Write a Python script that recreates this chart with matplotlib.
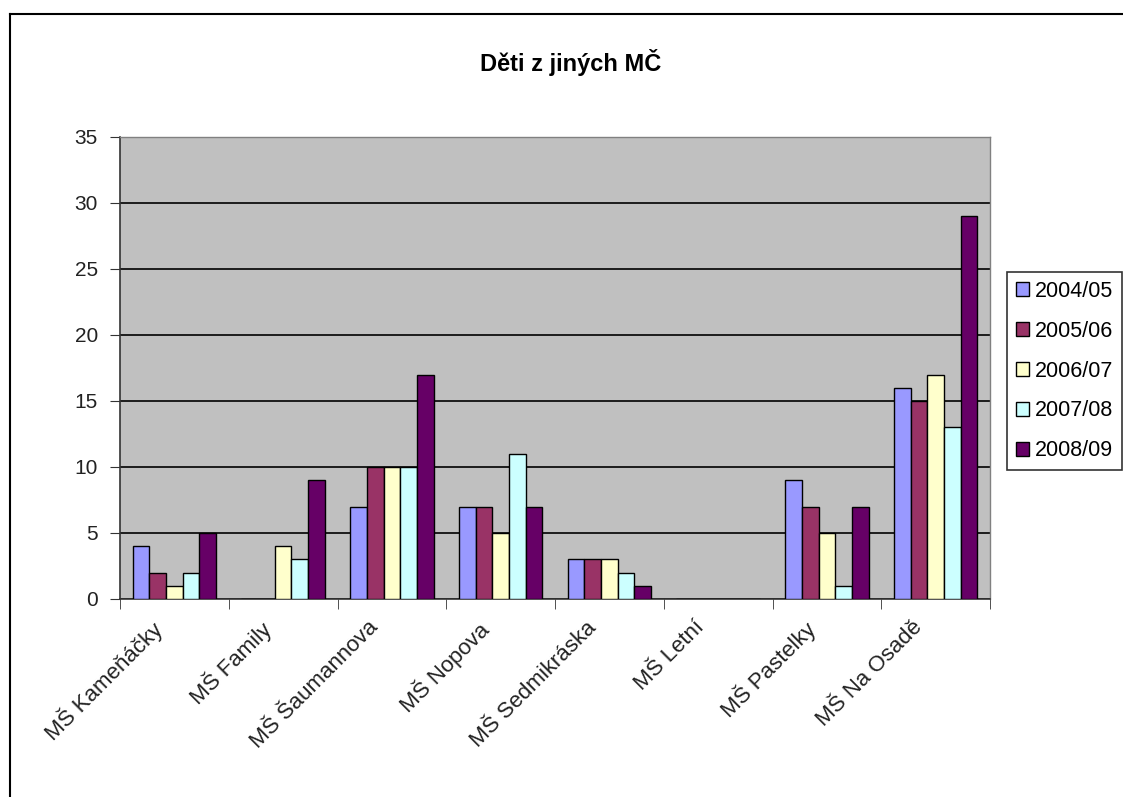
import numpy as np
import matplotlib.pyplot as plt
import matplotlib.transforms as mtransforms
from matplotlib.lines import Line2D

plt.rcParams['font.family'] = ['Liberation Sans', 'DejaVu Sans']

categories = ['MŠ Kameňáčky', 'MŠ Family', 'MŠ Šaumannova', 'MŠ Nopova',
              'MŠ Sedmikráska', 'MŠ Letní', 'MŠ Pastelky', 'MŠ Na Osadě']
years = ['2004/05', '2005/06', '2006/07', '2007/08', '2008/09']
v0405 = [4, 0, 7, 7, 3, 0, 9, 16]
v0506 = [2, 0, 10, 7, 3, 0, 7, 15]
v0607 = [1, 4, 10, 5, 3, 0, 5, 17]
v0708 = [2, 3, 10, 11, 2, 0, 1, 13]
v0809 = [5, 9, 17, 7, 1, 0, 7, 29]
series = [v0405, v0506, v0607, v0708, v0809]
colors = ['#9999FF', '#993366', '#FFFFCC', '#CCFFFF', '#660066']

fig = plt.figure(figsize=(11.23, 7.97), dpi=100)
ax = fig.add_axes([120/1123, 1-599/797, 870/1123, 462/797])
ax.set_facecolor('#C0C0C0')

x = np.arange(len(categories))
w = 1/6.5
for i, (vals, c) in enumerate(zip(series, colors)):
    ax.bar(x + (i-2)*w, vals, w, color=c, edgecolor='black', linewidth=1.0,
           label=years[i], zorder=3)

ax.set_xlim(-0.5, len(categories)-0.5)
ax.set_ylim(0, 35)
ax.set_yticks(range(0, 36, 5))
ax.yaxis.grid(True, color='black', linewidth=1.2, zorder=1)
ax.set_axisbelow(True)
ax.tick_params(axis='y', labelsize=15, length=7, color='#333333',
               labelcolor='#222222', pad=9)

ax.set_xticks(x)
ax.set_xticklabels(categories, rotation=45, ha='right', va='top',
                   rotation_mode='anchor', fontsize=16, color='#222222')
ax.tick_params(axis='x', length=0, pad=13)
ax.set_xticks(np.arange(-0.5, len(categories)), minor=True)
ax.tick_params(axis='x', which='minor', length=7, color='#333333')
shift = mtransforms.ScaledTranslation(-0.24, 0, fig.dpi_scale_trans)
for lab in ax.get_xticklabels():
    lab.set_transform(lab.get_transform() + shift)

for s in ['left', 'bottom']:
    ax.spines[s].set_color('#333333')
    ax.spines[s].set_linewidth(1.2)
for s in ['top', 'right']:
    ax.spines[s].set_color('#808080')
    ax.spines[s].set_linewidth(1.0)

fig.text(571/1123, 1-62/797, 'Děti z jiných MČ', ha='center', va='center',
         fontsize=17, fontweight='bold')

leg = fig.legend(loc='upper left', bbox_to_anchor=(1007/1123, 1-272/797),
                 fontsize=15.5, frameon=True, fancybox=False, edgecolor='black',
                 handlelength=0.6, handleheight=0.6, handletextpad=0.3,
                 labelspacing=0.88, borderpad=0.4, borderaxespad=0)
leg.get_frame().set_linewidth(1.2)

fig.add_artist(Line2D([10/1123, 10/1123], [0, 1-14/797], color='black', lw=1.5))
fig.add_artist(Line2D([10/1123, 1], [1-14/797, 1-14/797], color='black', lw=1.5))

fig.savefig('out.png', dpi=100)
